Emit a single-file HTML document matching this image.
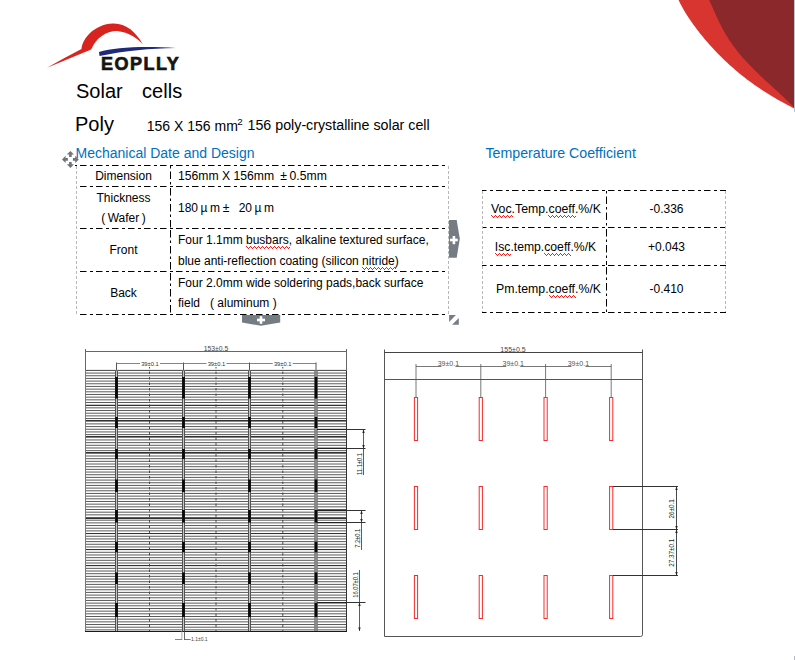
<!DOCTYPE html>
<html><head><meta charset="utf-8">
<style>
*{margin:0;padding:0;box-sizing:border-box}
html,body{width:795px;height:660px;background:#fff;overflow:hidden}
body{position:relative;font-family:"Liberation Sans",sans-serif;color:#000}
.a{position:absolute;white-space:nowrap;line-height:1}
.t{font-size:12px}
.c{text-align:center}
.blue{color:#0070c0}
.sq{}
.fw{display:inline-block;width:12px;text-align:center}
svg{position:absolute;left:0;top:0}
</style></head><body>

<!-- top-right decoration -->
<svg width="795" height="660" style="z-index:0">
  <path d="M678.53,0.00 L679.42,1.84 L680.34,3.68 L681.31,5.52 L682.32,7.36 L683.36,9.20 L684.44,11.04 L685.55,12.88 L686.70,14.73 L687.88,16.57 L689.09,18.41 L690.33,20.25 L691.60,22.09 L692.91,23.93 L694.24,25.77 L695.60,27.61 L696.99,29.45 L698.41,31.29 L699.85,33.13 L701.33,34.97 L702.83,36.81 L704.36,38.65 L705.92,40.49 L707.50,42.34 L709.12,44.18 L710.77,46.02 L712.44,47.86 L714.15,49.70 L715.89,51.54 L717.67,53.38 L719.47,55.22 L721.32,57.06 L723.20,58.90 L725.11,60.74 L727.07,62.58 L729.06,64.42 L731.10,66.26 L733.19,68.11 L735.31,69.95 L737.49,71.79 L739.71,73.63 L741.99,75.47 L744.32,77.31 L746.70,79.15 L749.14,80.99 L751.65,82.83 L754.21,84.67 L756.85,86.51 L759.55,88.35 L762.32,90.19 L765.16,92.03 L768.09,93.87 L771.09,95.72 L774.18,97.56 L777.35,99.40 L780.62,101.24 L783.97,103.08 L787.43,104.92 L790.98,106.76 L794.00,108.60 L795,108.60 L795,0 Z" fill="#d93530"/>
  <path d="M709.12,0.00 L709.98,1.83 L710.82,3.65 L711.65,5.48 L712.47,7.31 L713.28,9.14 L714.09,10.96 L714.90,12.79 L715.71,14.62 L716.53,16.44 L717.37,18.27 L718.22,20.10 L719.09,21.93 L719.98,23.75 L720.90,25.58 L721.84,27.41 L722.81,29.23 L723.82,31.06 L724.85,32.89 L725.92,34.72 L727.03,36.54 L728.18,38.37 L729.36,40.20 L730.59,42.02 L731.85,43.85 L733.16,45.68 L734.51,47.51 L735.90,49.33 L737.34,51.16 L738.82,52.99 L740.33,54.81 L741.89,56.64 L743.49,58.47 L745.14,60.29 L746.81,62.12 L748.53,63.95 L750.28,65.78 L752.07,67.60 L753.89,69.43 L755.74,71.26 L757.62,73.08 L759.52,74.91 L761.45,76.74 L763.40,78.57 L765.36,80.39 L767.34,82.22 L769.33,84.05 L771.33,85.87 L773.33,87.70 L775.33,89.53 L777.33,91.36 L779.32,93.18 L781.29,95.01 L783.25,96.84 L785.19,98.66 L787.09,100.49 L788.97,102.32 L790.80,104.15 L792.60,105.97 L794.00,107.80 L795,107.80 L795,0 Z" fill="#8b282b"/>
  <rect x="794" y="0" width="1" height="112" fill="#bcc4d2"/>
  <rect x="794" y="656" width="1" height="4" fill="#b4b8c8"/>
</svg>

<!-- logo -->
<svg width="200" height="80" style="left:0;top:0">
  <path d="M47,67.8 Q63,58.5 81.5,49 C82.5,38 95,24 113,23.5 C126,23.2 136,32 142.7,44.2 C138,39 129,32 117,31 C106,31 96,38 91.2,49.5 Q68,59 47,67.8 Z" fill="#d8231f"/>
  <path d="M99,52 C115,47.5 140,45.8 176,47.9 C150,48.6 125,50.3 99.5,56 Z" fill="#1f2a78"/>
</svg>
<div class="a" id="logo" style="left:101px;top:55px;font-size:18px;font-weight:bold;letter-spacing:1.5px;color:#151515;-webkit-text-stroke:0.7px #151515">EOPLLY</div>

<!-- titles -->
<div class="a" style="left:76px;top:80.5px;font-size:20px;word-spacing:-0.7px">Solar&nbsp;&nbsp;&nbsp;&nbsp;cells</div>
<div class="a" style="left:75px;top:113.5px;font-size:20px">Poly</div>
<div class="a" style="left:146.8px;top:118.85px;font-size:14px">156 X 156 mm<span style="position:absolute;left:90.4px;top:-2.2px;font-size:9.8px">2</span></div>
<div class="a" style="left:247.5px;top:118.3px;font-size:14.25px">156 poly-crystalline solar cell</div>

<div class="a blue" style="left:75.5px;top:145.8px;font-size:14px">Mechanical Date and Design</div>
<div class="a blue" style="left:485.5px;top:145.8px;font-size:14.2px">Temperature Coefficient</div>

<!-- left table borders -->
<svg width="795" height="660" style="z-index:1">
  <g stroke="#000" stroke-width="1" stroke-dasharray="6.5 3.5 3 3" fill="none">
    <line x1="75" y1="165.5" x2="448" y2="165.5" stroke-dashoffset="11"/>
    <line x1="77" y1="186.5" x2="448" y2="186.5" stroke-dashoffset="13"/>
    <line x1="77" y1="228.5" x2="448" y2="228.5" stroke-dashoffset="13"/>
    <line x1="77" y1="271.5" x2="448" y2="271.5" stroke-dashoffset="13"/>
    <line x1="77" y1="314.5" x2="448" y2="314.5" stroke-dashoffset="13"/>
  </g>
  <g stroke="#000" stroke-width="1" stroke-dasharray="7.5 3 2.5 3" fill="none">
    <line x1="170.5" y1="166" x2="170.5" y2="186" stroke-dashoffset="10.5"/>
    <line x1="170.5" y1="188" x2="170.5" y2="228"/>
    <line x1="170.5" y1="230" x2="170.5" y2="271"/>
    <line x1="170.5" y1="273" x2="170.5" y2="314"/>
  </g>
  <g stroke="#b8b8b8" stroke-width="1" stroke-dasharray="3 2" fill="none">
    <line x1="76.5" y1="166" x2="76.5" y2="314"/>
    <line x1="448.5" y1="166" x2="448.5" y2="314"/>
  </g>
  <!-- right table -->
  <g stroke="#000" stroke-width="1" stroke-dasharray="6.5 3.5 3 3" fill="none">
    <line x1="482" y1="190.5" x2="726" y2="190.5" stroke-dashoffset="2"/>
    <line x1="482" y1="227.5" x2="726" y2="227.5" stroke-dashoffset="2"/>
    <line x1="482" y1="265.5" x2="726" y2="265.5" stroke-dashoffset="2"/>
    <line x1="482" y1="312.5" x2="726" y2="312.5" stroke-dashoffset="2"/>
  </g>
  <g stroke="#000" stroke-width="1" stroke-dasharray="7.5 3 2.5 3" fill="none">
    <line x1="606.5" y1="191" x2="606.5" y2="227" stroke-dashoffset="10.5"/>
    <line x1="606.5" y1="229" x2="606.5" y2="265"/>
    <line x1="606.5" y1="267" x2="606.5" y2="312"/>
  </g>
  <g stroke="#b8b8b8" stroke-width="1" stroke-dasharray="3 2" fill="none">
    <line x1="482.5" y1="191" x2="482.5" y2="312"/>
    <line x1="725.5" y1="191" x2="725.5" y2="312"/>
  </g>
  <!-- handles -->
  <g fill="#767c84">
    <path d="M449,220 L456.7,220 L459.8,238.8 L456.7,257.7 L449,257.7 Z"/>
    <path d="M242,315 L280.2,315 L280.2,322.6 L261,325.8 L242,322.6 Z"/>
    <path d="M449.1,315 L455.9,315 L449.1,321.9 Z"/>
    <path d="M458.8,318.1 L458.8,324.7 L452.1,324.7 Z"/>
  </g>
  <g stroke="#fff" stroke-width="2.6">
    <line x1="450" y1="240" x2="457.8" y2="240"/><line x1="453.9" y1="236" x2="453.9" y2="244.2"/>
    <line x1="257" y1="320" x2="265" y2="320"/><line x1="261" y1="316.2" x2="261" y2="323.8"/>
  </g>
  <!-- move icon -->
  <g fill="#6e757d">
    <path d="M70.4,151 L74,154.6 L71.7,154.6 L71.7,156.9 L69.1,156.9 L69.1,154.6 L66.8,154.6 Z"/>
    <path d="M70.4,167.9 L74,164.2 L71.7,164.2 L71.7,162 L69.1,162 L69.1,164.2 L66.8,164.2 Z"/>
    <path d="M62,159.4 L65.6,155.8 L65.6,158.1 L67.9,158.1 L67.9,160.7 L65.6,160.7 L65.6,163 Z"/>
    <path d="M78.8,159.4 L75.2,155.8 L75.2,158.1 L72.9,158.1 L72.9,160.7 L75.2,160.7 L75.2,163 Z"/>
  </g>
</svg>

<!-- left table text -->
<div class="a t c" style="left:77px;width:93px;top:170px">Dimension</div>
<div class="a t c" style="left:77px;width:93px;top:192px">Thickness</div>
<div class="a t c" style="left:77px;width:93px;top:212px">(&thinsp;Wafer&thinsp;)</div>
<div class="a t c" style="left:77px;width:93px;top:244px">Front</div>
<div class="a t c" style="left:77px;width:93px;top:287px">Back</div>
<div class="a t" style="left:178px;top:170px;font-size:12.2px">156mm X 156mm <span class="fw">±</span>0.5mm</div>
<div class="a t" style="left:178px;top:202px">180<span class="fw">µ</span>m<span class="fw">±</span>&nbsp;&nbsp;20<span class="fw">µ</span>m</div>
<div class="a t" style="left:178px;top:234px">Four 1.1mm <span class="sq">busbars</span>, alkaline textured surface,</div>
<div class="a t" style="left:178px;top:255px">blue anti-reflection coating (silicon <span class="sq">nitride</span>)</div>
<div class="a t" style="left:178px;top:277px">Four 2.0mm wide soldering pads,back surface</div>
<div class="a t" style="left:178px;top:297px">field &nbsp;&nbsp;( aluminum )</div>

<!-- right table text -->
<div class="a t c" style="left:484.5px;width:123px;top:203px;font-size:12.3px"><span class="sq">Voc</span>.Temp.<span class="sq">coeff</span>.%/K</div>
<div class="a t c" style="left:484px;width:123px;top:241px;font-size:12.2px"><span class="sq">Isc</span>.temp.<span class="sq">coeff</span>.%/K</div>
<div class="a t c" style="left:487px;width:123px;top:283px;font-size:12.3px">Pm.temp.<span class="sq">coeff</span>.%/K</div>
<div class="a t c" style="left:607px;width:119px;top:203px">-0.336</div>
<div class="a t c" style="left:607px;width:119px;top:241px">+0.043</div>
<div class="a t c" style="left:607px;width:119px;top:283px">-0.410</div>

<svg id="sqsvg" width="795" height="660" style="z-index:3"><path fill="#ff1a1a" d="M246,246h1v1h-1zM247,247h1v1h-1zM248,248h1v1h-1zM249,247h1v1h-1zM250,246h1v1h-1zM251,247h1v1h-1zM252,248h1v1h-1zM253,247h1v1h-1zM254,246h1v1h-1zM255,247h1v1h-1zM256,248h1v1h-1zM257,247h1v1h-1zM258,246h1v1h-1zM259,247h1v1h-1zM260,248h1v1h-1zM261,247h1v1h-1zM262,246h1v1h-1zM263,247h1v1h-1zM264,248h1v1h-1zM265,247h1v1h-1zM266,246h1v1h-1zM267,247h1v1h-1zM268,248h1v1h-1zM269,247h1v1h-1zM270,246h1v1h-1zM271,247h1v1h-1zM272,248h1v1h-1zM273,247h1v1h-1zM274,246h1v1h-1zM275,247h1v1h-1zM276,248h1v1h-1zM277,247h1v1h-1zM278,246h1v1h-1zM279,247h1v1h-1zM280,248h1v1h-1zM281,247h1v1h-1zM282,246h1v1h-1zM283,247h1v1h-1zM284,248h1v1h-1zM285,247h1v1h-1zM286,246h1v1h-1zM287,247h1v1h-1zM288,248h1v1h-1zM289,247h1v1h-1zM362,267h1v1h-1zM363,268h1v1h-1zM364,269h1v1h-1zM365,268h1v1h-1zM366,267h1v1h-1zM367,268h1v1h-1zM368,269h1v1h-1zM369,268h1v1h-1zM370,267h1v1h-1zM371,268h1v1h-1zM372,269h1v1h-1zM373,268h1v1h-1zM374,267h1v1h-1zM375,268h1v1h-1zM376,269h1v1h-1zM377,268h1v1h-1zM378,267h1v1h-1zM379,268h1v1h-1zM380,269h1v1h-1zM381,268h1v1h-1zM382,267h1v1h-1zM383,268h1v1h-1zM384,269h1v1h-1zM385,268h1v1h-1zM386,267h1v1h-1zM387,268h1v1h-1zM388,269h1v1h-1zM389,268h1v1h-1zM390,267h1v1h-1zM391,268h1v1h-1zM392,269h1v1h-1zM393,268h1v1h-1zM394,267h1v1h-1zM395,268h1v1h-1zM491,215h1v1h-1zM492,216h1v1h-1zM493,217h1v1h-1zM494,216h1v1h-1zM495,215h1v1h-1zM496,216h1v1h-1zM497,217h1v1h-1zM498,216h1v1h-1zM499,215h1v1h-1zM500,216h1v1h-1zM501,217h1v1h-1zM502,216h1v1h-1zM503,215h1v1h-1zM504,216h1v1h-1zM505,217h1v1h-1zM506,216h1v1h-1zM507,215h1v1h-1zM508,216h1v1h-1zM509,217h1v1h-1zM510,216h1v1h-1zM511,215h1v1h-1zM512,216h1v1h-1zM548,215h1v1h-1zM549,216h1v1h-1zM550,217h1v1h-1zM551,216h1v1h-1zM552,215h1v1h-1zM553,216h1v1h-1zM554,217h1v1h-1zM555,216h1v1h-1zM556,215h1v1h-1zM557,216h1v1h-1zM558,217h1v1h-1zM559,216h1v1h-1zM560,215h1v1h-1zM561,216h1v1h-1zM562,217h1v1h-1zM563,216h1v1h-1zM564,215h1v1h-1zM565,216h1v1h-1zM566,217h1v1h-1zM567,216h1v1h-1zM568,215h1v1h-1zM569,216h1v1h-1zM570,217h1v1h-1zM571,216h1v1h-1zM572,215h1v1h-1zM573,216h1v1h-1zM574,217h1v1h-1zM575,216h1v1h-1zM495,253h1v1h-1zM496,254h1v1h-1zM497,255h1v1h-1zM498,254h1v1h-1zM499,253h1v1h-1zM500,254h1v1h-1zM501,255h1v1h-1zM502,254h1v1h-1zM503,253h1v1h-1zM504,254h1v1h-1zM505,255h1v1h-1zM506,254h1v1h-1zM507,253h1v1h-1zM508,254h1v1h-1zM509,255h1v1h-1zM510,254h1v1h-1zM544,253h1v1h-1zM545,254h1v1h-1zM546,255h1v1h-1zM547,254h1v1h-1zM548,253h1v1h-1zM549,254h1v1h-1zM550,255h1v1h-1zM551,254h1v1h-1zM552,253h1v1h-1zM553,254h1v1h-1zM554,255h1v1h-1zM555,254h1v1h-1zM556,253h1v1h-1zM557,254h1v1h-1zM558,255h1v1h-1zM559,254h1v1h-1zM560,253h1v1h-1zM561,254h1v1h-1zM562,255h1v1h-1zM563,254h1v1h-1zM564,253h1v1h-1zM565,254h1v1h-1zM566,255h1v1h-1zM567,254h1v1h-1zM568,253h1v1h-1zM569,254h1v1h-1zM570,255h1v1h-1zM549,295h1v1h-1zM550,296h1v1h-1zM551,297h1v1h-1zM552,296h1v1h-1zM553,295h1v1h-1zM554,296h1v1h-1zM555,297h1v1h-1zM556,296h1v1h-1zM557,295h1v1h-1zM558,296h1v1h-1zM559,297h1v1h-1zM560,296h1v1h-1zM561,295h1v1h-1zM562,296h1v1h-1zM563,297h1v1h-1zM564,296h1v1h-1zM565,295h1v1h-1zM566,296h1v1h-1zM567,297h1v1h-1zM568,296h1v1h-1zM569,295h1v1h-1zM570,296h1v1h-1zM571,297h1v1h-1zM572,296h1v1h-1zM573,295h1v1h-1zM574,296h1v1h-1zM575,297h1v1h-1z"/></svg>
<!-- drawings placeholder -->
<svg id="draw" width="795" height="660" style="z-index:2;font-family:'Liberation Sans',sans-serif">
<line x1="85.5" y1="370.4" x2="346.5" y2="370.4" stroke="#5a5a5a" stroke-width="1" />
<line x1="85.5" y1="373.07" x2="346.5" y2="373.07" stroke="#5a5a5a" stroke-width="1" />
<line x1="85.5" y1="375.75" x2="346.5" y2="375.75" stroke="#5a5a5a" stroke-width="1" />
<line x1="85.5" y1="378.43" x2="346.5" y2="378.43" stroke="#5a5a5a" stroke-width="1" />
<line x1="85.5" y1="381.1" x2="346.5" y2="381.1" stroke="#5a5a5a" stroke-width="1" />
<line x1="85.5" y1="383.78" x2="346.5" y2="383.78" stroke="#5a5a5a" stroke-width="1" />
<line x1="85.5" y1="386.45" x2="346.5" y2="386.45" stroke="#5a5a5a" stroke-width="1" />
<line x1="85.5" y1="389.13" x2="346.5" y2="389.13" stroke="#5a5a5a" stroke-width="1" />
<line x1="85.5" y1="391.8" x2="346.5" y2="391.8" stroke="#5a5a5a" stroke-width="1" />
<line x1="85.5" y1="394.48" x2="346.5" y2="394.48" stroke="#5a5a5a" stroke-width="1" />
<line x1="85.5" y1="397.15" x2="346.5" y2="397.15" stroke="#5a5a5a" stroke-width="1" />
<line x1="85.5" y1="399.83" x2="346.5" y2="399.83" stroke="#5a5a5a" stroke-width="1" />
<line x1="85.5" y1="402.5" x2="346.5" y2="402.5" stroke="#5a5a5a" stroke-width="1" />
<line x1="85.5" y1="405.18" x2="346.5" y2="405.18" stroke="#5a5a5a" stroke-width="1" />
<line x1="85.5" y1="407.85" x2="346.5" y2="407.85" stroke="#5a5a5a" stroke-width="1" />
<line x1="85.5" y1="410.53" x2="346.5" y2="410.53" stroke="#5a5a5a" stroke-width="1" />
<line x1="85.5" y1="413.2" x2="346.5" y2="413.2" stroke="#5a5a5a" stroke-width="1" />
<line x1="85.5" y1="415.88" x2="346.5" y2="415.88" stroke="#5a5a5a" stroke-width="1" />
<line x1="85.5" y1="418.55" x2="346.5" y2="418.55" stroke="#5a5a5a" stroke-width="1" />
<line x1="85.5" y1="421.23" x2="346.5" y2="421.23" stroke="#5a5a5a" stroke-width="1" />
<line x1="85.5" y1="423.9" x2="346.5" y2="423.9" stroke="#5a5a5a" stroke-width="1" />
<line x1="85.5" y1="426.58" x2="346.5" y2="426.58" stroke="#5a5a5a" stroke-width="1" />
<line x1="85.5" y1="429.25" x2="346.5" y2="429.25" stroke="#5a5a5a" stroke-width="1" />
<line x1="85.5" y1="431.93" x2="346.5" y2="431.93" stroke="#5a5a5a" stroke-width="1" />
<line x1="85.5" y1="434.6" x2="346.5" y2="434.6" stroke="#5a5a5a" stroke-width="1" />
<line x1="85.5" y1="437.28" x2="346.5" y2="437.28" stroke="#5a5a5a" stroke-width="1" />
<line x1="85.5" y1="439.95" x2="346.5" y2="439.95" stroke="#5a5a5a" stroke-width="1" />
<line x1="85.5" y1="442.63" x2="346.5" y2="442.63" stroke="#5a5a5a" stroke-width="1" />
<line x1="85.5" y1="445.3" x2="346.5" y2="445.3" stroke="#5a5a5a" stroke-width="1" />
<line x1="85.5" y1="447.98" x2="346.5" y2="447.98" stroke="#5a5a5a" stroke-width="1" />
<line x1="85.5" y1="450.65" x2="346.5" y2="450.65" stroke="#5a5a5a" stroke-width="1" />
<line x1="85.5" y1="453.33" x2="346.5" y2="453.33" stroke="#5a5a5a" stroke-width="1" />
<line x1="85.5" y1="456.0" x2="346.5" y2="456.0" stroke="#5a5a5a" stroke-width="1" />
<line x1="85.5" y1="458.68" x2="346.5" y2="458.68" stroke="#5a5a5a" stroke-width="1" />
<line x1="85.5" y1="461.35" x2="346.5" y2="461.35" stroke="#5a5a5a" stroke-width="1" />
<line x1="85.5" y1="464.03" x2="346.5" y2="464.03" stroke="#5a5a5a" stroke-width="1" />
<line x1="85.5" y1="466.7" x2="346.5" y2="466.7" stroke="#5a5a5a" stroke-width="1" />
<line x1="85.5" y1="469.38" x2="346.5" y2="469.38" stroke="#5a5a5a" stroke-width="1" />
<line x1="85.5" y1="472.05" x2="346.5" y2="472.05" stroke="#5a5a5a" stroke-width="1" />
<line x1="85.5" y1="474.73" x2="346.5" y2="474.73" stroke="#5a5a5a" stroke-width="1" />
<line x1="85.5" y1="477.4" x2="346.5" y2="477.4" stroke="#5a5a5a" stroke-width="1" />
<line x1="85.5" y1="480.08" x2="346.5" y2="480.08" stroke="#5a5a5a" stroke-width="1" />
<line x1="85.5" y1="482.75" x2="346.5" y2="482.75" stroke="#5a5a5a" stroke-width="1" />
<line x1="85.5" y1="485.43" x2="346.5" y2="485.43" stroke="#5a5a5a" stroke-width="1" />
<line x1="85.5" y1="488.1" x2="346.5" y2="488.1" stroke="#5a5a5a" stroke-width="1" />
<line x1="85.5" y1="490.78" x2="346.5" y2="490.78" stroke="#5a5a5a" stroke-width="1" />
<line x1="85.5" y1="493.45" x2="346.5" y2="493.45" stroke="#5a5a5a" stroke-width="1" />
<line x1="85.5" y1="496.13" x2="346.5" y2="496.13" stroke="#5a5a5a" stroke-width="1" />
<line x1="85.5" y1="498.8" x2="346.5" y2="498.8" stroke="#5a5a5a" stroke-width="1" />
<line x1="85.5" y1="501.48" x2="346.5" y2="501.48" stroke="#5a5a5a" stroke-width="1" />
<line x1="85.5" y1="504.15" x2="346.5" y2="504.15" stroke="#5a5a5a" stroke-width="1" />
<line x1="85.5" y1="506.83" x2="346.5" y2="506.83" stroke="#5a5a5a" stroke-width="1" />
<line x1="85.5" y1="509.5" x2="346.5" y2="509.5" stroke="#5a5a5a" stroke-width="1" />
<line x1="85.5" y1="512.18" x2="346.5" y2="512.18" stroke="#5a5a5a" stroke-width="1" />
<line x1="85.5" y1="514.85" x2="346.5" y2="514.85" stroke="#5a5a5a" stroke-width="1" />
<line x1="85.5" y1="517.53" x2="346.5" y2="517.53" stroke="#5a5a5a" stroke-width="1" />
<line x1="85.5" y1="520.2" x2="346.5" y2="520.2" stroke="#5a5a5a" stroke-width="1" />
<line x1="85.5" y1="522.88" x2="346.5" y2="522.88" stroke="#5a5a5a" stroke-width="1" />
<line x1="85.5" y1="525.55" x2="346.5" y2="525.55" stroke="#5a5a5a" stroke-width="1" />
<line x1="85.5" y1="528.23" x2="346.5" y2="528.23" stroke="#5a5a5a" stroke-width="1" />
<line x1="85.5" y1="530.9" x2="346.5" y2="530.9" stroke="#5a5a5a" stroke-width="1" />
<line x1="85.5" y1="533.58" x2="346.5" y2="533.58" stroke="#5a5a5a" stroke-width="1" />
<line x1="85.5" y1="536.25" x2="346.5" y2="536.25" stroke="#5a5a5a" stroke-width="1" />
<line x1="85.5" y1="538.93" x2="346.5" y2="538.93" stroke="#5a5a5a" stroke-width="1" />
<line x1="85.5" y1="541.6" x2="346.5" y2="541.6" stroke="#5a5a5a" stroke-width="1" />
<line x1="85.5" y1="544.27" x2="346.5" y2="544.27" stroke="#5a5a5a" stroke-width="1" />
<line x1="85.5" y1="546.95" x2="346.5" y2="546.95" stroke="#5a5a5a" stroke-width="1" />
<line x1="85.5" y1="549.62" x2="346.5" y2="549.62" stroke="#5a5a5a" stroke-width="1" />
<line x1="85.5" y1="552.3" x2="346.5" y2="552.3" stroke="#5a5a5a" stroke-width="1" />
<line x1="85.5" y1="554.97" x2="346.5" y2="554.97" stroke="#5a5a5a" stroke-width="1" />
<line x1="85.5" y1="557.65" x2="346.5" y2="557.65" stroke="#5a5a5a" stroke-width="1" />
<line x1="85.5" y1="560.32" x2="346.5" y2="560.32" stroke="#5a5a5a" stroke-width="1" />
<line x1="85.5" y1="563.0" x2="346.5" y2="563.0" stroke="#5a5a5a" stroke-width="1" />
<line x1="85.5" y1="565.67" x2="346.5" y2="565.67" stroke="#5a5a5a" stroke-width="1" />
<line x1="85.5" y1="568.35" x2="346.5" y2="568.35" stroke="#5a5a5a" stroke-width="1" />
<line x1="85.5" y1="571.02" x2="346.5" y2="571.02" stroke="#5a5a5a" stroke-width="1" />
<line x1="85.5" y1="573.7" x2="346.5" y2="573.7" stroke="#5a5a5a" stroke-width="1" />
<line x1="85.5" y1="576.37" x2="346.5" y2="576.37" stroke="#5a5a5a" stroke-width="1" />
<line x1="85.5" y1="579.05" x2="346.5" y2="579.05" stroke="#5a5a5a" stroke-width="1" />
<line x1="85.5" y1="581.72" x2="346.5" y2="581.72" stroke="#5a5a5a" stroke-width="1" />
<line x1="85.5" y1="584.4" x2="346.5" y2="584.4" stroke="#5a5a5a" stroke-width="1" />
<line x1="85.5" y1="587.07" x2="346.5" y2="587.07" stroke="#5a5a5a" stroke-width="1" />
<line x1="85.5" y1="589.75" x2="346.5" y2="589.75" stroke="#5a5a5a" stroke-width="1" />
<line x1="85.5" y1="592.42" x2="346.5" y2="592.42" stroke="#5a5a5a" stroke-width="1" />
<line x1="85.5" y1="595.1" x2="346.5" y2="595.1" stroke="#5a5a5a" stroke-width="1" />
<line x1="85.5" y1="597.77" x2="346.5" y2="597.77" stroke="#5a5a5a" stroke-width="1" />
<line x1="85.5" y1="600.45" x2="346.5" y2="600.45" stroke="#5a5a5a" stroke-width="1" />
<line x1="85.5" y1="603.12" x2="346.5" y2="603.12" stroke="#5a5a5a" stroke-width="1" />
<line x1="85.5" y1="605.8" x2="346.5" y2="605.8" stroke="#5a5a5a" stroke-width="1" />
<line x1="85.5" y1="608.47" x2="346.5" y2="608.47" stroke="#5a5a5a" stroke-width="1" />
<line x1="85.5" y1="611.15" x2="346.5" y2="611.15" stroke="#5a5a5a" stroke-width="1" />
<line x1="85.5" y1="613.82" x2="346.5" y2="613.82" stroke="#5a5a5a" stroke-width="1" />
<line x1="85.5" y1="616.5" x2="346.5" y2="616.5" stroke="#5a5a5a" stroke-width="1" />
<line x1="85.5" y1="619.17" x2="346.5" y2="619.17" stroke="#5a5a5a" stroke-width="1" />
<line x1="85.5" y1="621.85" x2="346.5" y2="621.85" stroke="#5a5a5a" stroke-width="1" />
<line x1="85.5" y1="624.52" x2="346.5" y2="624.52" stroke="#5a5a5a" stroke-width="1" />
<line x1="85.5" y1="627.2" x2="346.5" y2="627.2" stroke="#5a5a5a" stroke-width="1" />
<line x1="85.5" y1="629.87" x2="346.5" y2="629.87" stroke="#5a5a5a" stroke-width="1" />
<line x1="85.5" y1="405.5" x2="346.5" y2="405.5" stroke="#333" stroke-width="1" />
<line x1="85.5" y1="420.5" x2="346.5" y2="420.5" stroke="#333" stroke-width="1" />
<line x1="85.5" y1="436.5" x2="346.5" y2="436.5" stroke="#333" stroke-width="1" />
<line x1="85.5" y1="452.5" x2="346.5" y2="452.5" stroke="#333" stroke-width="1" />
<line x1="85.5" y1="518.5" x2="346.5" y2="518.5" stroke="#333" stroke-width="1" />
<line x1="85.5" y1="533.5" x2="346.5" y2="533.5" stroke="#333" stroke-width="1" />
<line x1="85.5" y1="549.5" x2="346.5" y2="549.5" stroke="#333" stroke-width="1" />
<line x1="85.5" y1="565.5" x2="346.5" y2="565.5" stroke="#333" stroke-width="1" />
<line x1="85.5" y1="370.5" x2="85.5" y2="631.5" stroke="#777" stroke-width="1" />
<line x1="346.5" y1="370.5" x2="346.5" y2="631.5" stroke="#333" stroke-width="1" />
<line x1="85.5" y1="370.5" x2="346.5" y2="370.5" stroke="#555" stroke-width="1" />
<line x1="85.0" y1="631.5" x2="347.0" y2="631.5" stroke="#1a1a1a" stroke-width="1.2" />
<line x1="149.5" y1="366" x2="149.5" y2="631" stroke="#3a3a3a" stroke-width="0.9" stroke-dasharray="2.5 3"/>
<line x1="216" y1="366" x2="216" y2="631" stroke="#3a3a3a" stroke-width="0.9" stroke-dasharray="2.5 3"/>
<line x1="282.8" y1="366" x2="282.8" y2="631" stroke="#3a3a3a" stroke-width="0.9" stroke-dasharray="2.5 3"/>
<rect x="115.0" y="370.5" width="3" height="260.5" fill="#c4c4c4"/>
<line x1="115.5" y1="370.5" x2="115.5" y2="631" stroke="#444" stroke-width="0.9" />
<line x1="117.5" y1="370.5" x2="117.5" y2="631" stroke="#444" stroke-width="0.9" />
<rect x="182.0" y="370.5" width="3" height="260.5" fill="#c4c4c4"/>
<line x1="182.5" y1="370.5" x2="182.5" y2="631" stroke="#444" stroke-width="0.9" />
<line x1="184.5" y1="370.5" x2="184.5" y2="631" stroke="#444" stroke-width="0.9" />
<rect x="248.0" y="370.5" width="3" height="260.5" fill="#c4c4c4"/>
<line x1="248.5" y1="370.5" x2="248.5" y2="631" stroke="#444" stroke-width="0.9" />
<line x1="250.5" y1="370.5" x2="250.5" y2="631" stroke="#444" stroke-width="0.9" />
<rect x="314.5" y="370.5" width="3" height="260.5" fill="#c4c4c4"/>
<line x1="315" y1="370.5" x2="315" y2="631" stroke="#444" stroke-width="0.9" />
<line x1="317" y1="370.5" x2="317" y2="631" stroke="#444" stroke-width="0.9" />
<rect x="115.1" y="377" width="2.8" height="21.5" fill="#0a0a0a"/>
<rect x="115.1" y="417" width="2.8" height="11" fill="#0a0a0a"/>
<rect x="115.1" y="449" width="2.8" height="10" fill="#0a0a0a"/>
<rect x="115.1" y="479.5" width="2.8" height="12.5" fill="#0a0a0a"/>
<rect x="115.1" y="510" width="2.8" height="12.600000000000023" fill="#0a0a0a"/>
<rect x="115.1" y="541.7" width="2.8" height="10.599999999999909" fill="#0a0a0a"/>
<rect x="115.1" y="572.4" width="2.8" height="11.600000000000023" fill="#0a0a0a"/>
<rect x="115.1" y="603" width="2.8" height="14" fill="#0a0a0a"/>
<rect x="182.1" y="377" width="2.8" height="21.5" fill="#0a0a0a"/>
<rect x="182.1" y="417" width="2.8" height="11" fill="#0a0a0a"/>
<rect x="182.1" y="449" width="2.8" height="10" fill="#0a0a0a"/>
<rect x="182.1" y="479.5" width="2.8" height="12.5" fill="#0a0a0a"/>
<rect x="182.1" y="510" width="2.8" height="12.600000000000023" fill="#0a0a0a"/>
<rect x="182.1" y="541.7" width="2.8" height="10.599999999999909" fill="#0a0a0a"/>
<rect x="182.1" y="572.4" width="2.8" height="11.600000000000023" fill="#0a0a0a"/>
<rect x="182.1" y="603" width="2.8" height="14" fill="#0a0a0a"/>
<rect x="248.1" y="377" width="2.8" height="21.5" fill="#0a0a0a"/>
<rect x="248.1" y="417" width="2.8" height="11" fill="#0a0a0a"/>
<rect x="248.1" y="449" width="2.8" height="10" fill="#0a0a0a"/>
<rect x="248.1" y="479.5" width="2.8" height="12.5" fill="#0a0a0a"/>
<rect x="248.1" y="510" width="2.8" height="12.600000000000023" fill="#0a0a0a"/>
<rect x="248.1" y="541.7" width="2.8" height="10.599999999999909" fill="#0a0a0a"/>
<rect x="248.1" y="572.4" width="2.8" height="11.600000000000023" fill="#0a0a0a"/>
<rect x="248.1" y="603" width="2.8" height="14" fill="#0a0a0a"/>
<rect x="314.6" y="377" width="2.8" height="21.5" fill="#0a0a0a"/>
<rect x="314.6" y="417" width="2.8" height="11" fill="#0a0a0a"/>
<rect x="314.6" y="449" width="2.8" height="10" fill="#0a0a0a"/>
<rect x="314.6" y="479.5" width="2.8" height="12.5" fill="#0a0a0a"/>
<rect x="314.6" y="510" width="2.8" height="12.600000000000023" fill="#0a0a0a"/>
<rect x="314.6" y="541.7" width="2.8" height="10.599999999999909" fill="#0a0a0a"/>
<rect x="314.6" y="572.4" width="2.8" height="11.600000000000023" fill="#0a0a0a"/>
<rect x="314.6" y="603" width="2.8" height="14" fill="#0a0a0a"/>
<line x1="85.5" y1="349" x2="85.5" y2="370" stroke="#666" stroke-width="1" />
<line x1="346.5" y1="349" x2="346.5" y2="370" stroke="#666" stroke-width="1" />
<line x1="85.5" y1="351.5" x2="346.5" y2="351.5" stroke="#666" stroke-width="1" />
<text x="216" y="350.8" font-size="6.8" text-anchor="middle" fill="#444">153±0.5</text>
<line x1="116.5" y1="362.5" x2="116.5" y2="370.5" stroke="#555" stroke-width="1" />
<line x1="183.5" y1="362.5" x2="183.5" y2="370.5" stroke="#555" stroke-width="1" />
<line x1="249.5" y1="362.5" x2="249.5" y2="370.5" stroke="#555" stroke-width="1" />
<line x1="316" y1="362.5" x2="316" y2="370.5" stroke="#555" stroke-width="1" />
<line x1="116.5" y1="363.5" x2="316" y2="363.5" stroke="#666" stroke-width="0.8" />
<rect x="140.0" y="360" width="20" height="7" fill="#fff"/>
<text x="150.0" y="366" font-size="5.8" text-anchor="middle" fill="#333">39±0.1</text>
<rect x="206.5" y="360" width="20" height="7" fill="#fff"/>
<text x="216.5" y="366" font-size="5.8" text-anchor="middle" fill="#333">39±0.1</text>
<rect x="272.75" y="360" width="20" height="7" fill="#fff"/>
<text x="282.75" y="366" font-size="5.8" text-anchor="middle" fill="#333">39±0.1</text>
<line x1="317" y1="429.5" x2="346.5" y2="429.5" stroke="#222" stroke-width="1" />
<line x1="346.5" y1="429.5" x2="365.5" y2="429.5" stroke="#333" stroke-width="1" />
<line x1="317" y1="448.5" x2="346.5" y2="448.5" stroke="#222" stroke-width="1" />
<line x1="346.5" y1="448.5" x2="365.5" y2="448.5" stroke="#333" stroke-width="1" />
<line x1="317" y1="510.5" x2="346.5" y2="510.5" stroke="#222" stroke-width="1" />
<line x1="346.5" y1="510.5" x2="365.5" y2="510.5" stroke="#333" stroke-width="1" />
<line x1="317" y1="522.5" x2="346.5" y2="522.5" stroke="#222" stroke-width="1" />
<line x1="346.5" y1="522.5" x2="365.5" y2="522.5" stroke="#333" stroke-width="1" />
<line x1="317" y1="602.5" x2="346.5" y2="602.5" stroke="#222" stroke-width="1" />
<line x1="346.5" y1="602.5" x2="365.5" y2="602.5" stroke="#333" stroke-width="1" />
<line x1="363.5" y1="429.5" x2="363.5" y2="475" stroke="#333" stroke-width="0.8" />
<line x1="361.5" y1="510.5" x2="361.5" y2="550" stroke="#333" stroke-width="0.8" />
<line x1="359.5" y1="570" x2="359.5" y2="631" stroke="#333" stroke-width="0.8" />
<text x="0" y="0" font-size="7" text-anchor="middle" fill="#222" transform="translate(362 464) rotate(-90) scale(0.82 1)">11.1±0.1</text>
<text x="0" y="0" font-size="7" text-anchor="middle" fill="#222" transform="translate(360 538.3) rotate(-90) scale(0.82 1)">7.2±0.1</text>
<text x="0" y="0" font-size="7" text-anchor="middle" fill="#222" transform="translate(358 585) rotate(-90) scale(0.82 1)">16.07±0.1</text>
<line x1="181.9" y1="631" x2="181.9" y2="640" stroke="#999" stroke-width="0.8" />
<line x1="184.5" y1="631" x2="184.5" y2="640" stroke="#444" stroke-width="0.8" />
<line x1="175" y1="639.5" x2="181.9" y2="639.5" stroke="#666" stroke-width="0.8" />
<line x1="184.5" y1="639.5" x2="190.6" y2="639.5" stroke="#555" stroke-width="0.8" />
<text x="191" y="641.3" font-size="5" text-anchor="start" fill="#444">1.1±0.1</text>
<line x1="384.5" y1="349.5" x2="384.5" y2="636.5" stroke="#555" stroke-width="1" />
<line x1="642.5" y1="349.5" x2="642.5" y2="634.5" stroke="#555" stroke-width="1" />
<line x1="384.5" y1="379.5" x2="642.5" y2="379.5" stroke="#555" stroke-width="1" />
<path d="M384.5,636.5 L640.5,636.5 Q642.5,636.5 642.5,634.5" fill="none" stroke="#555" stroke-width="1"/>
<line x1="384.5" y1="352.5" x2="642.5" y2="352.5" stroke="#444" stroke-width="1" />
<text x="513" y="351.8" font-size="7" text-anchor="middle" fill="#444">155±0.5</text>
<line x1="416" y1="366.5" x2="611.2" y2="366.5" stroke="#555" stroke-width="0.8" />
<rect x="441.4" y="366" width="14" height="1" fill="#fff"/>
<text x="448.4" y="365.5" font-size="7" text-anchor="middle" fill="#555">39±0.1</text>
<rect x="506.20000000000005" y="366" width="14" height="1" fill="#fff"/>
<text x="513.2" y="365.5" font-size="7" text-anchor="middle" fill="#555">39±0.1</text>
<rect x="571.4000000000001" y="366" width="14" height="1" fill="#fff"/>
<text x="578.4000000000001" y="365.5" font-size="7" text-anchor="middle" fill="#555">39±0.1</text>
<line x1="416" y1="364" x2="416" y2="397" stroke="#555" stroke-width="0.8" />
<line x1="480.8" y1="364" x2="480.8" y2="397" stroke="#555" stroke-width="0.8" />
<line x1="545.6" y1="364" x2="545.6" y2="397" stroke="#555" stroke-width="0.8" />
<line x1="611.2" y1="364" x2="611.2" y2="397" stroke="#555" stroke-width="0.8" />
<rect x="414.4" y="397.5" width="3.2" height="43" fill="#fff" stroke="#f42c2c" stroke-width="1"/>
<rect x="414.4" y="486.5" width="3.2" height="43" fill="#fff" stroke="#f42c2c" stroke-width="1"/>
<rect x="414.4" y="575.5" width="3.2" height="43" fill="#fff" stroke="#f42c2c" stroke-width="1"/>
<rect x="479.2" y="397.5" width="3.2" height="43" fill="#fff" stroke="#f42c2c" stroke-width="1"/>
<rect x="479.2" y="486.5" width="3.2" height="43" fill="#fff" stroke="#f42c2c" stroke-width="1"/>
<rect x="479.2" y="575.5" width="3.2" height="43" fill="#fff" stroke="#f42c2c" stroke-width="1"/>
<rect x="544.0" y="397.5" width="3.2" height="43" fill="#fff" stroke="#f42c2c" stroke-width="1"/>
<rect x="544.0" y="486.5" width="3.2" height="43" fill="#fff" stroke="#f42c2c" stroke-width="1"/>
<rect x="544.0" y="575.5" width="3.2" height="43" fill="#fff" stroke="#f42c2c" stroke-width="1"/>
<rect x="609.6" y="397.5" width="3.2" height="43" fill="#fff" stroke="#f42c2c" stroke-width="1"/>
<rect x="609.6" y="486.5" width="3.2" height="43" fill="#fff" stroke="#f42c2c" stroke-width="1"/>
<rect x="609.6" y="575.5" width="3.2" height="43" fill="#fff" stroke="#f42c2c" stroke-width="1"/>
<line x1="613" y1="486.5" x2="678" y2="486.5" stroke="#333" stroke-width="1" />
<line x1="613" y1="529.5" x2="678" y2="529.5" stroke="#333" stroke-width="1" />
<line x1="613" y1="575.5" x2="678" y2="575.5" stroke="#333" stroke-width="1" />
<line x1="676.5" y1="486.5" x2="676.5" y2="575.5" stroke="#333" stroke-width="0.9" />
<text x="0" y="0" font-size="6.3" text-anchor="middle" fill="#222" transform="translate(674.2 508.8) rotate(-90) scale(1 1)">26±0.1</text>
<text x="0" y="0" font-size="6.3" text-anchor="middle" fill="#222" transform="translate(674.2 552.7) rotate(-90) scale(1 1)">27.37±0.1</text>
<path d="M676.5,486.5 L675.3,490.0 L677.7,490.0 Z" fill="#222"/>
<path d="M676.5,529.5 L675.3,526.0 L677.7,526.0 Z" fill="#222"/>
<path d="M676.5,529.5 L675.3,533.0 L677.7,533.0 Z" fill="#222"/>
<path d="M676.5,575.5 L675.3,572.0 L677.7,572.0 Z" fill="#222"/>
<path d="M363.5,429.5 L362.3,433.0 L364.7,433.0 Z" fill="#222"/>
<path d="M363.5,448.5 L362.3,445.0 L364.7,445.0 Z" fill="#222"/>
<path d="M361.5,510.5 L360.3,514.0 L362.7,514.0 Z" fill="#222"/>
<path d="M361.5,522.5 L360.3,519.0 L362.7,519.0 Z" fill="#222"/>
<path d="M359.5,602.5 L358.3,606.0 L360.7,606.0 Z" fill="#222"/>
<path d="M359.5,631 L358.3,627.5 L360.7,627.5 Z" fill="#222"/>
</svg>

</body></html>
